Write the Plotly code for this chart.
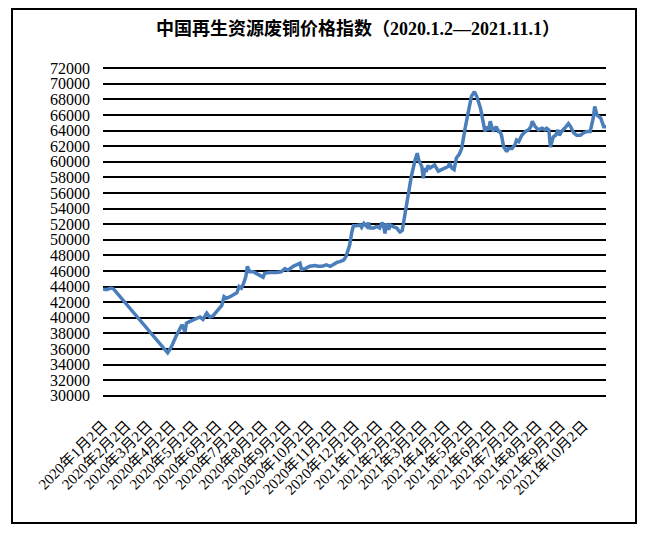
import plotly.graph_objects as go

dates = [
    "2020-01-02", "2020-01-06", "2020-01-13", "2020-01-16", "2020-03-28",
    "2020-04-02", "2020-04-08", "2020-04-13", "2020-04-16", "2020-04-20",
    "2020-04-22", "2020-04-26", "2020-05-01", "2020-05-05", "2020-05-10",
    "2020-05-14", "2020-05-19", "2020-05-23", "2020-05-27", "2020-06-01",
    "2020-06-05", "2020-06-08", "2020-06-11", "2020-06-14", "2020-06-19",
    "2020-06-23", "2020-06-28", "2020-07-01", "2020-07-04", "2020-07-07",
    "2020-07-10", "2020-07-12", "2020-07-15", "2020-07-20", "2020-07-24",
    "2020-07-29", "2020-08-02", "2020-08-04", "2020-08-11", "2020-08-20",
    "2020-08-26", "2020-08-31", "2020-09-04", "2020-09-11", "2020-09-18",
    "2020-09-20", "2020-09-22", "2020-09-27", "2020-10-03", "2020-10-10",
    "2020-10-14", "2020-10-19", "2020-10-25", "2020-10-30", "2020-11-03",
    "2020-11-08", "2020-11-12", "2020-11-17", "2020-11-20", "2020-11-22",
    "2020-11-25", "2020-11-28", "2020-11-30", "2020-12-04", "2020-12-09",
    "2020-12-11", "2020-12-14", "2020-12-18", "2020-12-20", "2020-12-22",
    "2020-12-27", "2020-12-31", "2021-01-04", "2021-01-07", "2021-01-09",
    "2021-01-11", "2021-01-13", "2021-01-16", "2021-01-18", "2021-01-22",
    "2021-01-27", "2021-01-29", "2021-01-31", "2021-02-03", "2021-02-06",
    "2021-02-11", "2021-02-15", "2021-02-20", "2021-02-23", "2021-02-25",
    "2021-03-01", "2021-03-03", "2021-03-05", "2021-03-07", "2021-03-09",
    "2021-03-12", "2021-03-16", "2021-03-18", "2021-03-23", "2021-03-27",
    "2021-04-01", "2021-04-05", "2021-04-07", "2021-04-10", "2021-04-13",
    "2021-04-16", "2021-04-20", "2021-04-23", "2021-04-28", "2021-05-02",
    "2021-05-06", "2021-05-10", "2021-05-13", "2021-05-18", "2021-05-21",
    "2021-05-24", "2021-05-26", "2021-05-29", "2021-05-31", "2021-06-02",
    "2021-06-04", "2021-06-08", "2021-06-11", "2021-06-13", "2021-06-15",
    "2021-06-18", "2021-06-20", "2021-06-22", "2021-06-24", "2021-06-29",
    "2021-07-03", "2021-07-05", "2021-07-08", "2021-07-12", "2021-07-17",
    "2021-07-21", "2021-07-24", "2021-07-26", "2021-07-30", "2021-08-03",
    "2021-08-08", "2021-08-12", "2021-08-14", "2021-08-17", "2021-08-19",
    "2021-08-21", "2021-08-23", "2021-08-26", "2021-08-29", "2021-08-31",
    "2021-09-03", "2021-09-07", "2021-09-12", "2021-09-15", "2021-09-19",
    "2021-09-23", "2021-09-28", "2021-10-02", "2021-10-07", "2021-10-11",
    "2021-10-15", "2021-10-17", "2021-10-20", "2021-10-25", "2021-10-29",
    "2021-11-01",
]

index_values = [
    43700, 43600, 43800, 43700, 35500,
    36300, 37600, 38600, 39100, 38200,
    39300, 39500, 39700, 39900, 40100,
    39800, 40600, 40100, 40200, 40800,
    41200, 41600, 42700, 42500, 42700,
    42900, 43200, 44000, 43800, 44400,
    45300, 46600, 45900, 45900, 45700,
    45500, 45200, 45700, 45800, 45800,
    45900, 46300, 46100, 46600, 46900,
    47000, 46200, 46300, 46600, 46700,
    46600, 46600, 46800, 46600, 46800,
    47100, 47200, 47400, 47800, 48300,
    49300, 51000, 51800, 51800, 51900,
    51600, 52100, 51700, 52200, 51500,
    51500, 51700, 51500, 52200, 51900,
    50800, 52100, 51300, 51900, 51700,
    51500, 51200, 51000, 51200, 53000,
    55500, 58100, 60200, 61100, 60200,
    59400, 57900, 59200, 58700, 59500,
    59200, 59500, 59600, 58800, 59000,
    59200, 59400, 59800, 59200, 59000,
    60500, 61000, 61700, 64500, 66700,
    68400, 69000, 68400, 66900, 65200,
    63900, 64500, 64100, 65200, 64500,
    63900, 64500, 63900, 63900, 63400,
    61900, 61600, 61300, 61700, 61700,
    62200, 62800, 62600, 63400, 63900,
    64100, 64500, 65200, 64500, 64100,
    64300, 64100, 64300, 64100, 61900,
    62800, 63200, 63400, 64100, 63400,
    63900, 64300, 64900, 64500, 63700,
    63400, 63400, 63700, 63900, 63900,
    65600, 67100, 66000, 65600, 64500,
    64500,
]

tick_dates = [
    "2020-01-02", "2020-02-02", "2020-03-02", "2020-04-02", "2020-05-02",
    "2020-06-02", "2020-07-02", "2020-08-02", "2020-09-02", "2020-10-02",
    "2020-11-02", "2020-12-02", "2021-01-02", "2021-02-02", "2021-03-02",
    "2021-04-02", "2021-05-02", "2021-06-02", "2021-07-02", "2021-08-02",
    "2021-09-02", "2021-10-02",
]
tick_labels = [
    "2020年1月2日", "2020年2月2日", "2020年3月2日", "2020年4月2日", "2020年5月2日",
    "2020年6月2日", "2020年7月2日", "2020年8月2日", "2020年9月2日", "2020年10月2日",
    "2020年11月2日", "2020年12月2日", "2021年1月2日", "2021年2月2日", "2021年3月2日",
    "2021年4月2日", "2021年5月2日", "2021年6月2日", "2021年7月2日", "2021年8月2日",
    "2021年9月2日", "2021年10月2日",
]

title_text = "中国再生资源废铜价格指数（2020.1.2—2021.11.1）"

fig = go.Figure()
fig.add_trace(go.Scatter(
    x=dates, y=index_values, mode="lines",
    line=dict(color="#4A7EBB", width=3.5),
    showlegend=False, hoverinfo="x+y",
))

fig.update_layout(
    width=650, height=535,
    margin=dict(l=103, r=44, t=67, b=138),
    paper_bgcolor="white", plot_bgcolor="white",
    title=dict(
        text="<b>" + title_text + "</b>",
        x=(358 - 103) / 503, xref="paper", xanchor="center",
        y=1 - 29 / 535, yref="container", yanchor="middle",
        font=dict(family="Liberation Serif, Noto Sans CJK SC", size=18, color="black"),
    ),
    xaxis=dict(
        type="date",
        range=["2020-01-02", "2021-11-01"],
        tickmode="array", tickvals=tick_dates, ticktext=tick_labels,
        tickangle=-45,
        tickfont=dict(family="Liberation Serif, Noto Sans CJK SC", size=15, color="black"),
        showgrid=False, showline=False, zeroline=False, ticks="",
        ticklabelstandoff=16,
    ),
    yaxis=dict(
        range=[29840, 72160],
        tickmode="linear", tick0=30000, dtick=2000,
        tickformat="d",
        tickfont=dict(family="Liberation Serif", size=16, color="black"),
        showgrid=True, gridcolor="black", gridwidth=2,
        showline=False, zeroline=False, ticks="",
        ticklabelstandoff=12,
    ),
    shapes=[dict(
        type="rect", xref="paper", yref="paper",
        x0=(12 - 103) / 503, x1=(636 - 103) / 503,
        y0=(397 - 523) / 330, y1=(397 - 9) / 330,
        line=dict(color="black", width=2), fillcolor="rgba(0,0,0,0)",
        layer="below",
    )],
)

fig.write_html("out.html")
